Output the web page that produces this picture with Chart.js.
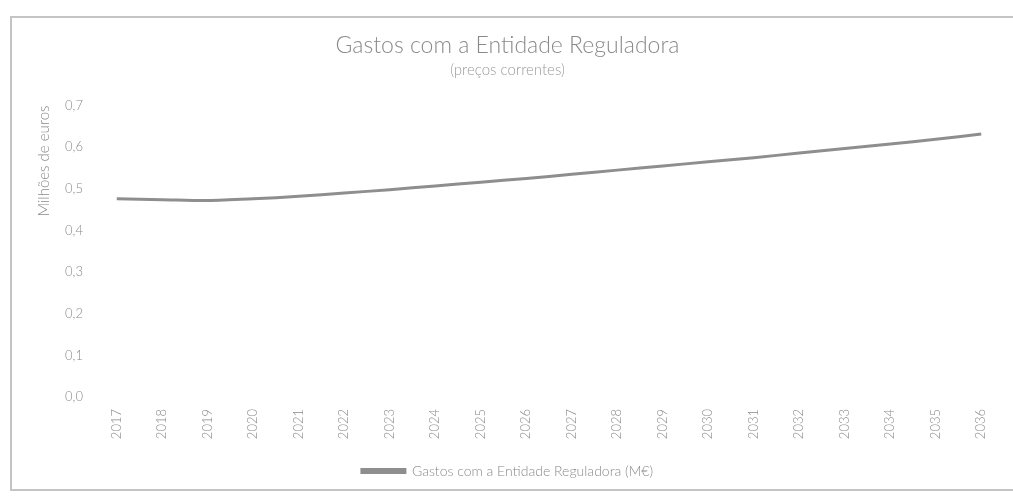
<!DOCTYPE html>
<html>
<head>
<meta charset="utf-8">
<script src="https://cdn.jsdelivr.net/npm/chart.js@4.4.1/dist/chart.umd.min.js"></script>
<style>
  html, body { margin: 0; padding: 0; background: #ffffff; }
  #wrap { width: 1013px; height: 496px; position: relative; }
</style>
</head>
<body>
<div id="wrap"><canvas id="c" width="1013" height="496"></canvas></div>
<script>
const years = ["2017","2018","2019","2020","2021","2022","2023","2024","2025","2026","2027","2028","2029","2030","2031","2032","2033","2034","2035","2036"];
const gastos = [0.476,0.474,0.472,0.476,0.482,0.490,0.498,0.507,0.516,0.525,0.535,0.545,0.555,0.565,0.575,0.586,0.597,0.608,0.619,0.632];
const yTicks = ["0,0","0,1","0,2","0,3","0,4","0,5","0,6","0,7"];

const frame = {
  id: 'frame',
  beforeDraw(chart) {
    const ctx = chart.ctx;
    ctx.save();
    ctx.fillStyle = '#ffffff';
    ctx.fillRect(0, 0, chart.width, chart.height);
    ctx.strokeStyle = '#c4c4c4';
    ctx.lineWidth = 2;
    ctx.strokeRect(11, 17, chart.width + 20, 473);
    ctx.restore();
  }
};

const FONT = "Lato, 'Open Sans', sans-serif";
new Chart(document.getElementById('c'), {
  type: 'line',
  data: {
    labels: years,
    datasets: [{
      label: 'Gastos com a Entidade Reguladora (M€)',
      data: gastos,
      borderColor: '#8e8e8e',
      backgroundColor: '#8e8e8e',
      borderWidth: 3,
      pointRadius: 0,
      tension: 0.3,
      fill: false
    }]
  },
  options: {
    responsive: false,
    animation: false,
    layout: { padding: { left: 11, right: 9, top: 0, bottom: 8 } },
    plugins: {
      title: {
        display: true,
        text: 'Gastos com a Entidade Reguladora',
        color: '#8a8a8a',
        font: { family: FONT, size: 23, weight: '300' },
        padding: { top: 32, bottom: 2 }
      },
      subtitle: {
        display: true,
        text: '(preços correntes)',
        color: '#9a9a9a',
        font: { family: FONT, size: 15, weight: '300' },
        padding: { top: 0, bottom: 26 }
      },
      legend: {
        display: true,
        position: 'bottom',
        labels: {
          color: '#8a8a8a',
          font: { family: FONT, size: 14, weight: '300' },
          boxWidth: 43,
          boxHeight: 3,
          padding: 10
        }
      },
      tooltip: { enabled: false }
    },
    scales: {
      x: {
        offset: true,
        grid: { display: false, drawTicks: false },
        border: { display: false },
        ticks: {
          color: '#8a8a8a',
          font: { family: FONT, size: 13, weight: '300' },
          minRotation: 90,
          maxRotation: 90,
          autoSkip: false,
          padding: 12
        },
        afterFit(s) { s.height = 57; }
      },
      y: {
        min: 0,
        max: 0.7,
        grid: { display: false, drawTicks: false },
        border: { display: false },
        ticks: {
          stepSize: 0.1,
          color: '#8a8a8a',
          font: { family: FONT, size: 13, weight: '300' },
          padding: 11,
          callback: (v, i) => yTicks[i]
        },
        title: {
          display: true,
          text: 'Milhões de euros',
          align: 'end',
          color: '#8a8a8a',
          font: { family: FONT, size: 15, weight: '300' },
          padding: { top: 24, bottom: 6 }
        },
        afterFit(s) { s.width = 83; }
      }
    }
  },
  plugins: [frame]
});
</script>
</body>
</html>
